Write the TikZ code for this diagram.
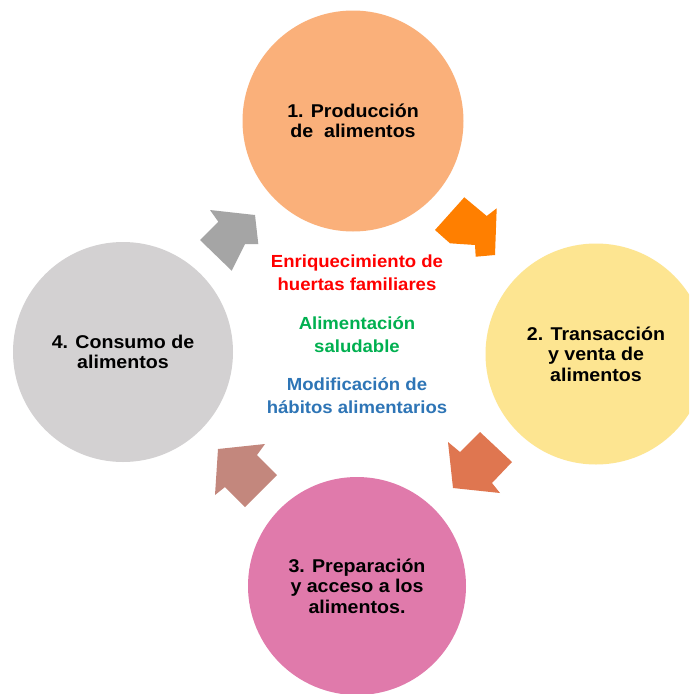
\documentclass[tikz,border=0pt]{standalone}
\usepackage{fontspec}
\setmainfont{Liberation Sans}[FakeStretch=1.06]
\definecolor{c1fill}{HTML}{FAB07A}
\definecolor{c2fill}{HTML}{FDE591}
\definecolor{c3fill}{HTML}{E07AAB}
\definecolor{c4fill}{HTML}{D3D1D2}
\definecolor{a1fill}{HTML}{FF7F00}
\definecolor{a2fill}{HTML}{DF7650}
\definecolor{a3fill}{HTML}{C3877D}
\definecolor{a4fill}{HTML}{A5A5A5}
\definecolor{tred}{HTML}{FF0000}
\definecolor{tgreen}{HTML}{00B050}
\definecolor{tblue}{HTML}{2E75B6}
\tikzset{
  stage/.style={circle, fill=#1, draw=none, inner sep=0pt, minimum size=221pt,
    align=center, text=black, font=\bfseries\fontsize{18.5}{20.5}\selectfont},
  blockarrow/.style={fill=#1, draw=none},
  centertext/.style={align=center, text=#1, font=\bfseries\fontsize{17.5}{23}\selectfont}
}
\begin{document}
\begin{tikzpicture}[x=1pt,y=-1pt]
\useasboundingbox (0,0) rectangle (689,694);
\clip (0,0) rectangle (689,694);
\fill[white] (0,0) rectangle (689,694);
% stages
\node[stage=c1fill] (c1) at (353,121) {1. Producción\\de~~alimentos};
\node[stage=c2fill] (c2) at (596,354) {2. Transacción\\y venta de\\alimentos};
\node[stage=c3fill, minimum size=218pt] (c3) at (357,586) {3. Preparación\\y acceso a los\\alimentos.};
\node[stage=c4fill, minimum size=220pt] (c4) at (123,352) {4. Consumo de\\alimentos};
% block arrows
\fill[blockarrow=a1fill] (464.3,197.3) -- (486.7,216) -- (496.7,208.3) -- (495,255)
  -- (475.7,256.7) -- (475,245) -- (450,243.3) -- (435,230) -- cycle;
\fill[blockarrow=a2fill] (480,432) -- (512,462) -- (492,483) -- (500,493)
  -- (453,488) -- (448,442) -- (460,452) -- cycle;
\fill[blockarrow=a3fill] (218,449) -- (265,444) -- (257,455) -- (277,475)
  -- (245,507) -- (225,487) -- (215,495) -- cycle;
\fill[blockarrow=a4fill] (210,210) -- (255,215) -- (258.3,244) -- (245,244)
  -- (231.7,270.7) -- (200,240) -- (218.3,221.7) -- cycle;
% center texts
\node[centertext=tred] (t1) at (357,273) {Enriquecimiento de\\huertas familiares};
\node[centertext=tgreen] (t2) at (357,334.5) {Alimentación\\saludable};
\node[centertext=tblue] (t3) at (357,395.5) {Modificación de\\hábitos alimentarios};
\end{tikzpicture}
\end{document}
